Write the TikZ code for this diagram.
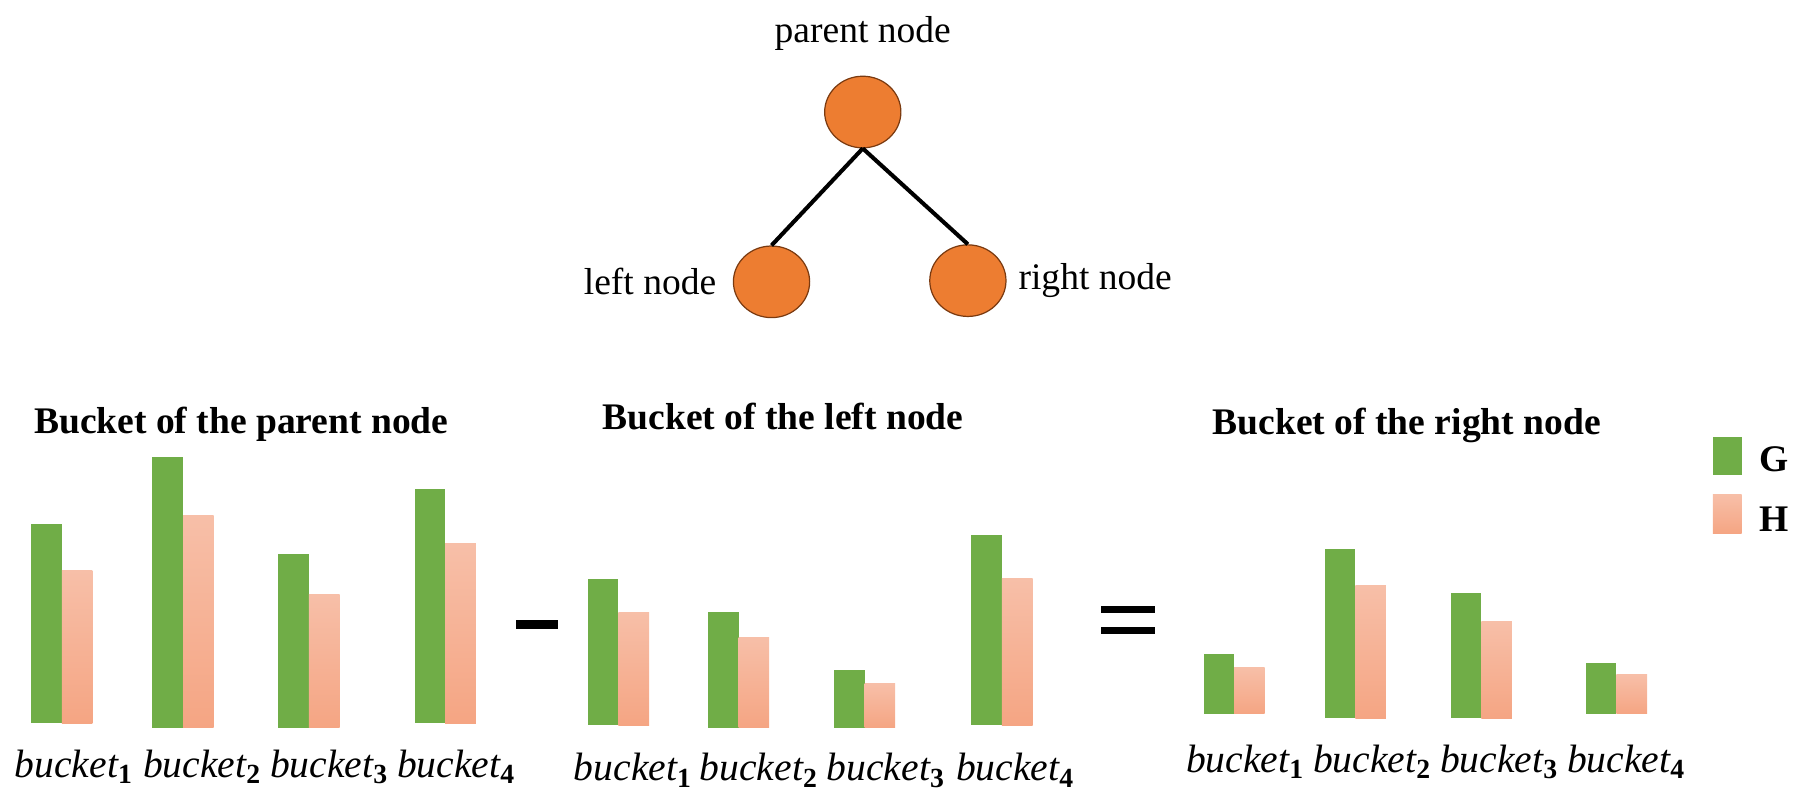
\documentclass[tikz,border=0pt]{standalone}
\usepackage{fontspec}
\setmainfont{Liberation Serif}
\usetikzlibrary{positioning,shapes.geometric}

\definecolor{barG}{HTML}{70AD47}
\definecolor{barHtop}{HTML}{F7BFA8}
\definecolor{barHbot}{HTML}{F5A583}
\definecolor{treefill}{HTML}{ED7D31}
\definecolor{treeline}{HTML}{7A3A10}

% one bucket: x, bottom, top of G, top of H
\newcommand{\bucketpair}[4]{%
    \fill[gbar] (#1,#2) rectangle (#1+26.5,#3);
    \shade[hbar] (#1+26.5,#2) rectangle (#1+53,#4);
}

\begin{document}
\begin{tikzpicture}[x=.02cm, y=-.02cm,
        tnode/.style={ellipse, draw=treeline, line width=.6pt, fill=treefill,
            minimum width=1.32cm, minimum height=1.24cm, inner sep=0pt},
        tlabel/.style={inner sep=0pt, font=\fontsize{18.5}{22}\selectfont},
        edge/.style={line width=2pt, black},
        btitle/.style={anchor=base, inner sep=0pt, font=\fontsize{18.5}{22}\selectfont\bfseries},
        blabel/.style={anchor=base, inner sep=0pt, font=\fontsize{19.5}{22}\selectfont},
        gbar/.style={fill=barG},
        hbar/.style={top color=barHtop, bottom color=barHbot}
    ]
    \useasboundingbox (0,0) rectangle (1568,695);

    % tree
    \node[tnode] (parent) at (747,97) {};
    \node[tnode] (leftnode) at (668,244) {};
    \node[tnode] (rightnode) at (838,243) {};
    \node[tlabel, above=.42cm of parent] (parentlbl) {parent node};
    \node[tlabel, left=.28cm of leftnode] (leftlbl) {left node};
    \node[tlabel, right=.2cm of rightnode] (rightlbl) {right node};
    \draw[edge] (parent.south) -- (leftnode.north);
    \draw[edge] (parent.south) -- (rightnode.north);

    % titles
    \node[btitle] (ptitle) at (209,375) {Bucket of the parent node};
    \node[btitle] (ltitle) at (678,372) {Bucket of the left node};
    \node[btitle] (rtitle) at (1218,376) {Bucket of the right node};

    % bars
    \foreach \x/\b/\g/\h in {27/626/454/494, 132/630/396/446, 241/630/480/515, 359/626/423/471}
        \bucketpair{\x}{\b}{\g}{\h};
    \foreach \x/\b/\g/\h in {509/628/501/530, 613/630/530/552, 722/630/580/592, 841/628/463/501}
        \bucketpair{\x}{\b}{\g}{\h};
    \foreach \x/\b/\g/\h in {1042/618/566/578, 1147/622/475/507, 1256/622/513/538, 1373/618/574/584}
        \bucketpair{\x}{\b}{\g}{\h};

    % bucket labels
    \foreach \x/\i in {64/1, 175/2, 285/3, 395/4}
        \node[blabel] (pb\i) at (\x,673) {$\mathit{bucket}_{\mathbf{\i}}$};
    \foreach \x/\i in {548/1, 657/2, 767/3, 879/4}
        \node[blabel] (lb\i) at (\x,676) {$\mathit{bucket}_{\mathbf{\i}}$};
    \foreach \x/\i in {1078/1, 1188/2, 1298/3, 1408/4}
        \node[blabel] (rb\i) at (\x,669) {$\mathit{bucket}_{\mathbf{\i}}$};

    % minus and equals
    \fill (447,537) rectangle (483,545);
    \fill (953,525) rectangle (1000,531);
    \fill (953,543) rectangle (1000,549);

    % legend
    \fill[gbar] (1483,378) rectangle (1508,411);
    \shade[hbar] (1483,428) rectangle (1508,462);
    \node[btitle, anchor=base west] (legG) at (1523,408) {G};
    \node[btitle, anchor=base west] (legH) at (1523,460) {H};
\end{tikzpicture}
\end{document}
